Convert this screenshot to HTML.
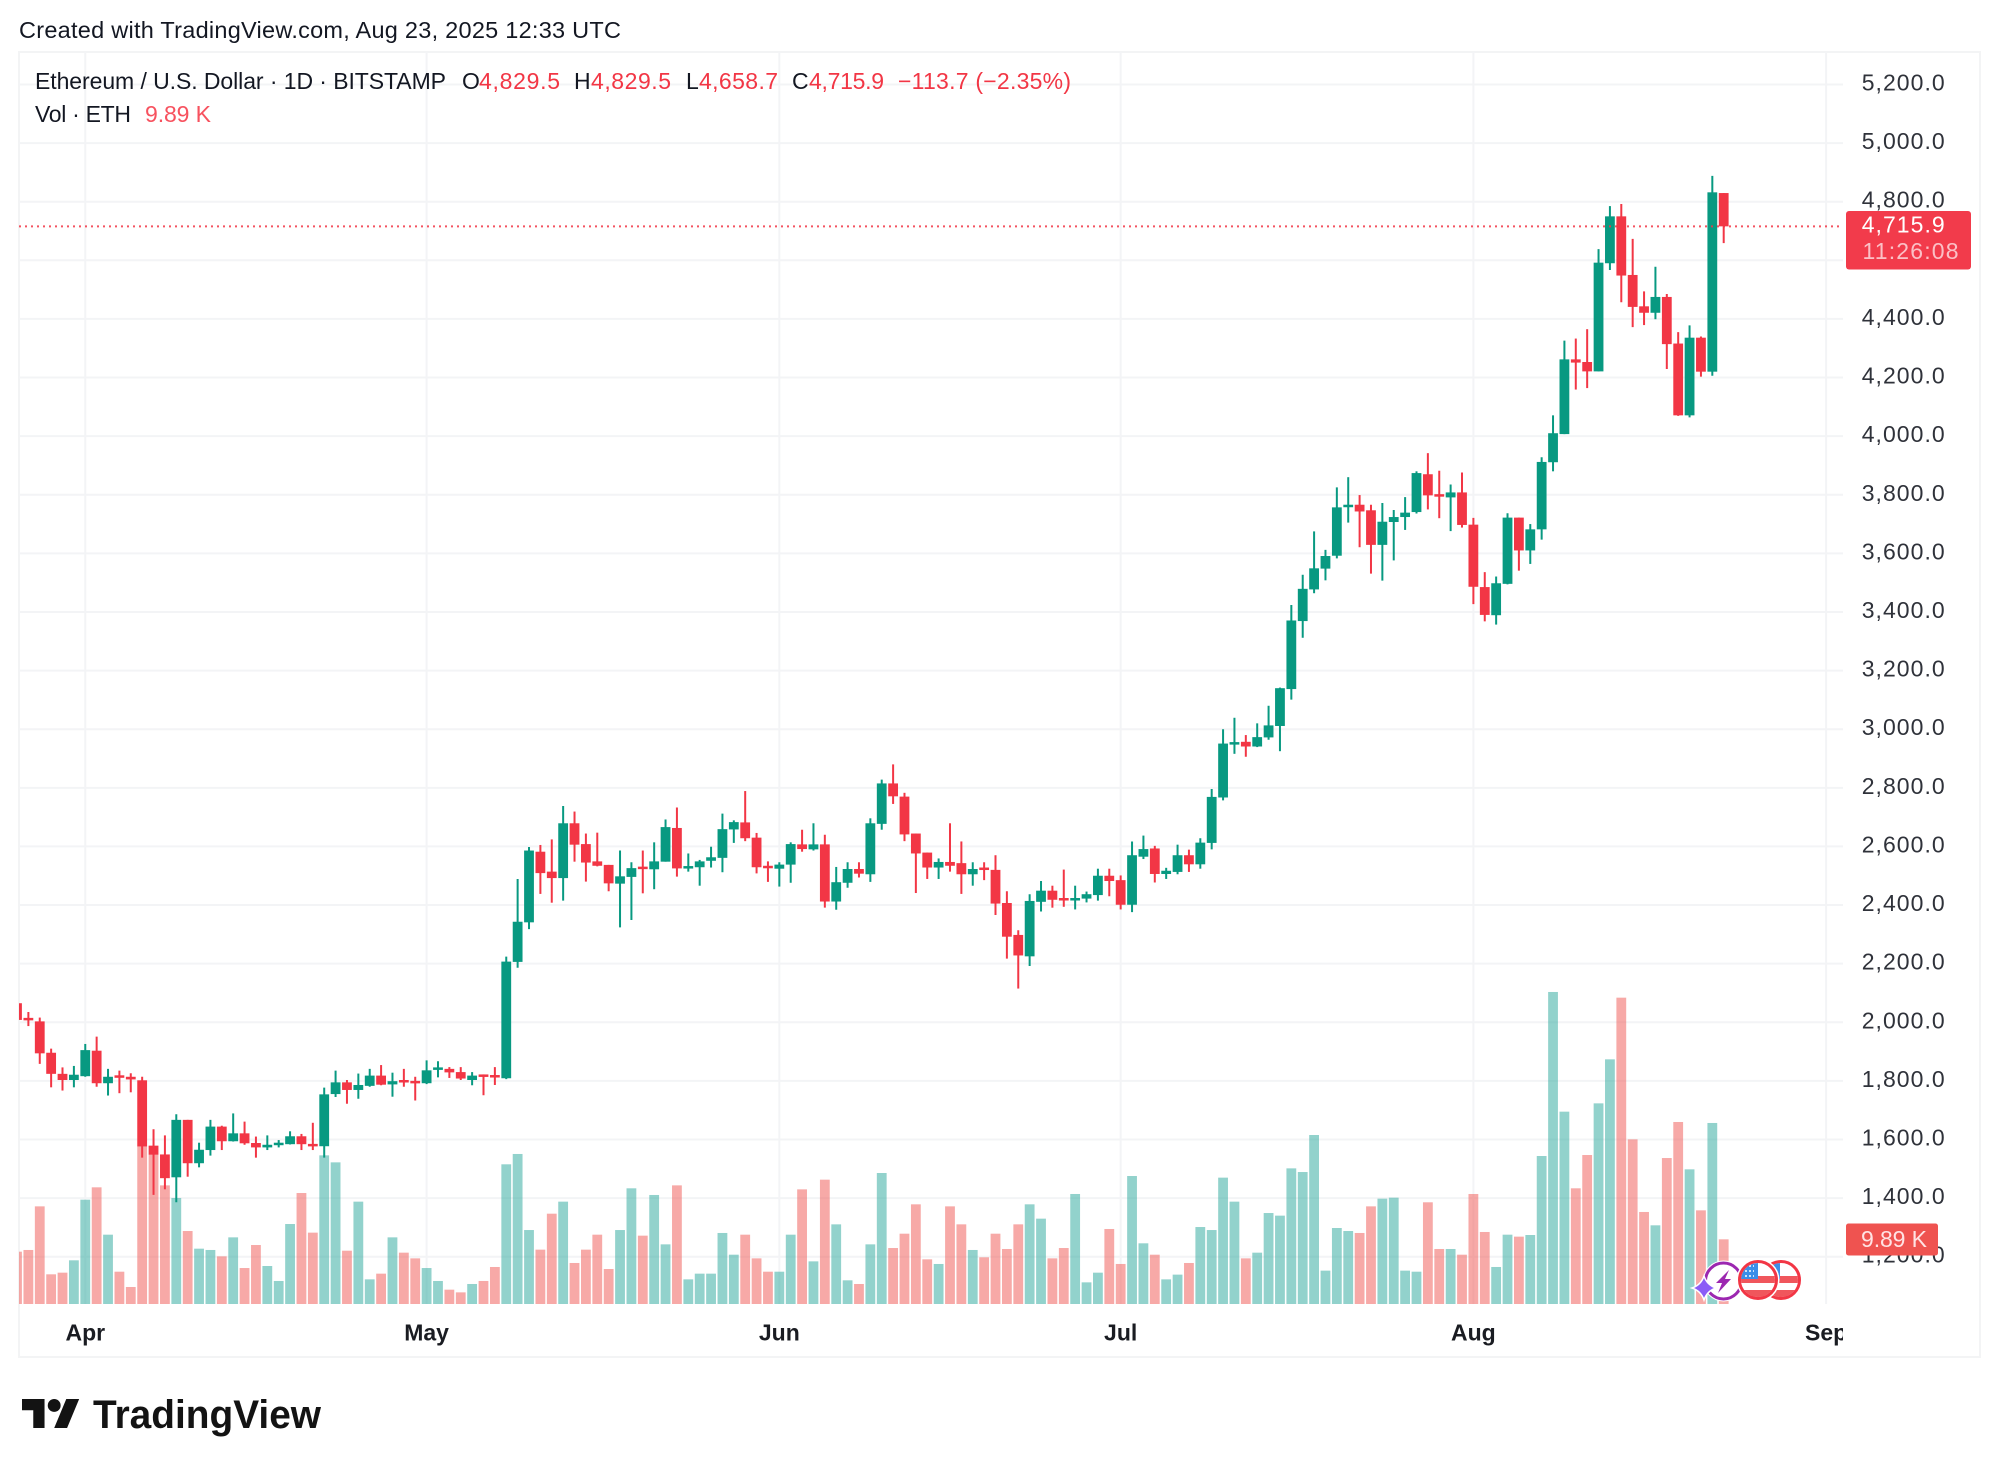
<!DOCTYPE html>
<html lang="en">
<head>
<meta charset="utf-8">
<title>Ethereum / U.S. Dollar 1D chart</title>
<style>
html,body{margin:0;padding:0;background:#fff;}
body{width:1999px;height:1472px;overflow:hidden;}
svg{display:block;font-family:"Liberation Sans",sans-serif;}
</style>
</head>
<body>
<svg id="chart" xmlns="http://www.w3.org/2000/svg" width="1999" height="1472" viewBox="0 0 1999 1472">
  <defs>
    <clipPath id="plot-clip"><rect x="19" y="52" width="1824" height="1305"/></clipPath>
    <clipPath id="flag-clip-a"><circle cx="1758" cy="1280" r="17"/></clipPath>
    <clipPath id="flag-clip-b"><circle cx="1781" cy="1280" r="17"/></clipPath>
  </defs>
  <rect width="1999" height="1472" fill="#fff"/>
  <text x="19" y="38" font-size="23.5" fill="#131722" textLength="602" lengthAdjust="spacing">Created with TradingView.com, Aug 23, 2025 12:33 UTC</text>
  <rect x="19" y="52" width="1961" height="1305" fill="none" stroke="#f3f4f5" stroke-width="2"/>
  <g id="grid"></g>
  <g id="volumes" clip-path="url(#plot-clip)"></g>
  <g id="candles" clip-path="url(#plot-clip)"></g>
  <line id="price-line" x1="19" x2="1843" stroke="#f23645" stroke-opacity="0.85" stroke-width="2" stroke-dasharray="2 4"/>
  <g id="price-axis"></g>
  <g id="time-axis" clip-path="url(#plot-clip)"></g>

  <g font-size="23">
    <text x="35" y="89" fill="#131722" textLength="411" lengthAdjust="spacing">Ethereum / U.S. Dollar · 1D · BITSTAMP</text>
    <text x="462" y="89" fill="#131722">O</text>
    <text x="479" y="89" fill="#f23645" textLength="81" lengthAdjust="spacing">4,829.5</text>
    <text x="574" y="89" fill="#131722">H</text>
    <text x="591" y="89" fill="#f23645" textLength="80" lengthAdjust="spacing">4,829.5</text>
    <text x="686" y="89" fill="#131722">L</text>
    <text x="699" y="89" fill="#f23645" textLength="79" lengthAdjust="spacing">4,658.7</text>
    <text x="792" y="89" fill="#131722">C</text>
    <text x="809" y="89" fill="#f23645" textLength="75" lengthAdjust="spacing">4,715.9</text>
    <text x="898" y="89" fill="#f23645" textLength="173" lengthAdjust="spacing">−113.7 (−2.35%)</text>
    <text x="35" y="122" fill="#131722" textLength="96" lengthAdjust="spacing">Vol · ETH</text>
    <text x="145" y="122" fill="#f7525f" textLength="66" lengthAdjust="spacing">9.89 K</text>
  </g>

  <g id="price-tag">
    <rect x="1846" y="211" width="125" height="58.5" rx="3" fill="#f23b4b"/>
    <text x="1861.7" y="232.5" font-size="23" fill="#fff" textLength="83" lengthAdjust="spacing">4,715.9</text>
    <text x="1862.5" y="259" font-size="23" fill="#fbc0c6" textLength="96" lengthAdjust="spacing">11:26:08</text>
  </g>
  <g>
    <rect x="1846" y="1223.5" width="92" height="32" rx="2.5" fill="#ef5350"/>
    <text x="1861" y="1247" font-size="23" fill="#ffe3e4" textLength="66" lengthAdjust="spacing">9.89 K</text>
  </g>

  <g>
    <g>
      <circle cx="1781" cy="1280" r="21.5" fill="#fff"/>
      <g clip-path="url(#flag-clip-b)">
        <rect x="1762" y="1261" width="38" height="38" fill="#fff"/>
        <rect x="1762" y="1276" width="38" height="7" fill="#f0565c"/>
        <rect x="1762" y="1290" width="38" height="10" fill="#f0565c"/>
        <rect x="1762" y="1262" width="18" height="17" fill="#3b8ee8"/>
      </g>
      <circle cx="1781" cy="1280" r="18.5" fill="none" stroke="#f23645" stroke-width="3"/>
    </g>
    <g>
      <circle cx="1723.5" cy="1281" r="20.5" fill="#fff"/>
      <circle cx="1723.5" cy="1281" r="18" fill="none" stroke="#9c27b0" stroke-width="3"/>
      <polygon points="1729,1270 1716,1283 1722,1283 1718,1293 1731,1279 1725,1279" fill="#9c27b0"/>
      <path d="M1704,1276 Q1707,1285 1716,1288 Q1707,1291 1704,1300 Q1701,1291 1692,1288 Q1701,1285 1704,1276Z" fill="#8b5cf6" stroke="#fff" stroke-width="1.5"/>
    </g>
    <g>
      <circle cx="1758" cy="1280" r="21.5" fill="#fff"/>
      <g clip-path="url(#flag-clip-a)">
        <rect x="1739" y="1261" width="38" height="38" fill="#fff"/>
        <rect x="1739" y="1276" width="38" height="7" fill="#f0565c"/>
        <rect x="1739" y="1290" width="38" height="10" fill="#f0565c"/>
        <rect x="1739" y="1262" width="19" height="17" fill="#3b8ee8"/>
        <path d="M1745,1266h9M1745,1271h9M1745,1276h9" stroke="#cfe3fb" stroke-width="2" stroke-dasharray="2 2"/>
      </g>
      <circle cx="1758" cy="1280" r="18.5" fill="none" stroke="#f23645" stroke-width="3"/>
    </g>
  </g>

  <g>
    <g transform="translate(22,1392.6) scale(1.61)" fill="#131313">
      <path d="M14 22H7V11H0V4h14v18zM28 22h-8l7.5-18h8L28 22z"/>
      <circle cx="20" cy="8" r="4"/>
    </g>
    <text x="93" y="1428" font-size="40" font-weight="bold" fill="#131313" textLength="228" lengthAdjust="spacingAndGlyphs">TradingView</text>
  </g>
</svg>

<script>
const startDate = '2025-03-26';
const monthLabels = ['Apr', 'May', 'Jun', 'Jul', 'Aug', 'Sep'];
const monthDates = ['2025-04-01', '2025-05-01', '2025-06-01', '2025-07-01', '2025-08-01', '2025-09-01'];
const priceTicks = [5200, 5000, 4800, 4600, 4400, 4200, 4000, 3800, 3600, 3400, 3200, 3000, 2800, 2600, 2400, 2200, 2000, 1800, 1600, 1400, 1200];
const priceTickLabels = ['5,200.0', '5,000.0', '4,800.0', '4,600.0', '4,400.0', '4,200.0', '4,000.0', '3,800.0', '3,600.0', '3,400.0', '3,200.0', '3,000.0', '2,800.0', '2,600.0', '2,400.0', '2,200.0', '2,000.0', '1,800.0', '1,600.0', '1,400.0', '1,200.0'];

const opens = [2065,2015,2003,1896,1824,1803,1816,1903,1792,1819,1814,1802,1579,1549,1471,1667,1519,1564,1644,1594,1621,1588,1573,1584,1584,1611,1585,1577,1755,1795,1769,1783,1818,1788,1803,1800,1792,1839,1841,1830,1803,1822,1820,1809,
2206,2341,2582,2514,2492,2679,2608,2549,2537,2473,2496,2531,2522,2548,2663,2526,2529,2551,2561,2658,2682,2630,2534,2524,2538,2607,2590,2607,2412,2476,2523,2505,2677,2815,2770,2644,2579,2528,2547,2543,2505,2528,2520,2407,2298,
2225,2411,2449,2424,2416,2422,2434,2500,2485,2401,2565,2593,2506,2513,2570,2539,2612,2767,2950,2957,2941,2972,3011,3137,3369,3477,3548,3592,3760,3766,3747,3629,3707,3724,3741,3870,3802,3791,3808,3698,3485,
3389,3496,3722,3610,3682,3911,4007,4262,4253,4221,4590,4750,4550,4443,4421,4475,4316,4071,4336,4220,4829.5];

const highs = [2065,2035,2016,1910,1846,1851,1926,1951,1841,1835,1826,1814,1635,1614,1686,1667,1589,1667,1647,1689,1661,1610,1614,1598,1628,1619,1657,1777,1835,1803,1825,1841,1854,1828,1841,1814,1870,1867,1847,1847,1830,1822,1847,2224,
2489,2598,2605,2624,2738,2719,2644,2647,2537,2586,2546,2586,2614,2692,2733,2576,2554,2599,2712,2689,2789,2646,2549,2546,2614,2657,2679,2640,2530,2546,2546,2696,2828,2880,2783,2644,2579,2559,2679,2617,2546,2546,2570,2447,2314,
2437,2482,2466,2521,2466,2446,2524,2524,2501,2617,2637,2602,2527,2606,2589,2628,2796,3000,3039,2980,3020,3080,3142,3424,3527,3675,3612,3825,3860,3799,3766,3772,3748,3792,3880,3942,3882,3835,3876,3721,3536,
3521,3737,3722,3700,3928,4071,4326,4333,4365,4638,4785,4792,4673,4494,4578,4485,4355,4378,4340,4888,4829.5];

const lows = [2007,1987,1858,1778,1767,1778,1814,1780,1750,1758,1761,1538,1411,1430,1386,1473,1505,1545,1564,1593,1582,1538,1564,1573,1583,1564,1564,1538,1745,1722,1739,1780,1785,1746,1780,1733,1789,1812,1810,1803,1785,1751,1786,1806,
2186,2318,2438,2408,2415,2548,2480,2532,2447,2324,2349,2440,2454,2548,2497,2514,2466,2528,2512,2612,2618,2508,2479,2463,2476,2582,2586,2391,2384,2459,2494,2479,2657,2745,2618,2441,2489,2489,2514,2438,2466,2485,2366,2217,2115,
2192,2378,2391,2394,2385,2409,2415,2430,2385,2376,2557,2477,2489,2505,2513,2524,2590,2757,2916,2906,2939,2964,2925,3101,3312,3464,3508,3583,3705,3621,3531,3507,3576,3680,3736,3750,3720,3676,3688,3427,3368,
3357,3494,3541,3564,3647,3880,4007,4159,4164,4221,4567,4457,4372,4379,4399,4229,4069,4064,4203,4206,4658.7];

const closes = [2008,2008,1894,1824,1803,1821,1905,1792,1814,1813,1805,1576,1548,1468,1667,1519,1565,1644,1594,1621,1587,1573,1582,1589,1611,1584,1578,1754,1795,1769,1786,1818,1787,1799,1796,1794,1836,1846,1829,1808,1818,1817,1813,2207,
2343,2586,2509,2492,2679,2606,2545,2534,2474,2498,2526,2524,2549,2666,2525,2533,2549,2563,2659,2683,2628,2529,2528,2538,2608,2591,2607,2412,2478,2523,2507,2679,2815,2771,2641,2576,2528,2547,2534,2505,2523,2522,2405,2292,2228,
2414,2449,2418,2418,2424,2437,2500,2482,2401,2570,2591,2506,2517,2570,2539,2613,2769,2951,2956,2941,2973,3013,3140,3371,3479,3549,3591,3757,3766,3743,3629,3708,3724,3739,3874,3798,3797,3808,3697,3486,3390,
3498,3722,3610,3682,3912,4010,4262,4251,4221,4592,4750,4548,4441,4421,4475,4314,4071,4336,4220,4832,4715.9];

const volumes = [8,8.26,14.93,4.54,4.79,6.68,15.95,17.84,10.6,4.94,2.6,24.06,22.83,18.14,16.21,11.16,8.46,8.26,7.29,10.19,5.5,9.02,5.81,3.52,12.23,16.97,10.91,22.73,21.66,8.15,15.65,3.77,4.64,10.19,7.85,6.98,5.5,3.52,2.19,1.78,3.06,3.52,5.66,21.36,
22.94,11.31,8.31,13.81,15.65,6.27,8.31,10.6,5.35,11.31,17.69,10.45,16.67,9.12,18.14,3.77,4.64,4.64,10.86,7.54,10.6,6.98,4.94,4.94,10.6,17.53,6.52,19.01,12.18,3.62,3.06,9.12,20.03,8.56,10.75,15.24,6.83,6.12,14.93,12.18,8.26,7.14,10.75,8.41,12.18,
15.24,13.05,6.98,8.56,16.82,3.31,4.79,11.47,6.12,19.57,9.28,7.54,3.77,4.49,6.27,11.77,11.31,19.32,15.65,6.98,7.85,13.91,13.51,20.74,20.18,25.84,5.1,11.62,11.16,10.86,14.93,16.11,16.26,5.1,4.94,15.55,8.41,8.41,7.54,16.82,11.01,
5.66,10.6,10.3,10.55,22.63,47.71,29.41,17.69,22.78,30.68,37.41,46.84,25.18,14.07,12.03,22.32,27.83,20.59,14.32,27.68,9.89];

const SVG_NS = 'http://www.w3.org/2000/svg';
const UP = '#089981';
const DOWN = '#f23645';
const VOLUME_UP = '#26a69a';
const VOLUME_DOWN = '#ef5350';

function xScale(index) { return 17 + index * 11.378; }
function yScale(price) { return 201.7 + (4800 - price) * 0.29306; }
function volumeHeight(volume) { return volume * 6.54; }
function dayIndex(dateText) { return Math.round((Date.parse(dateText) - Date.parse(startDate)) / 86400000); }
const VOLUME_BASE = 1304;

function make(tag, attrs, parent) {
  const el = document.createElementNS(SVG_NS, tag);
  for (const key in attrs) el.setAttribute(key, attrs[key]);
  parent.appendChild(el);
  return el;
}

const grid = document.getElementById('grid');
const priceAxis = document.getElementById('price-axis');
const timeAxis = document.getElementById('time-axis');
const volumesGroup = document.getElementById('volumes');
const candlesGroup = document.getElementById('candles');

priceTicks.forEach(function (tick, k) {
  const y = yScale(tick);
  const line = make('line', { x1: 19, x2: 1843, y1: y, y2: y, stroke: '#f3f4f6', 'stroke-width': 2 }, grid);
  
  
  const label = make('text', { x: 1861.7, y: y + 6, 'font-size': 23, fill: '#2f323a', textLength: 83, lengthAdjust: 'spacing' }, priceAxis);
  
  
  label.textContent = priceTickLabels[k];
});

monthDates.forEach(function (dateText, k) {
  const x = xScale(dayIndex(dateText));
  const line = make('line', { x1: x, x2: x, y1: 52, y2: 1304, stroke: '#f3f4f6', 'stroke-width': 2 }, grid);
  
  
  const label = make('text', { x: x, y: 1340.5, 'font-size': 23, 'font-weight': 'bold', fill: '#1a1c22', 'text-anchor': 'middle' }, timeAxis);
  
  
  label.textContent = monthLabels[k];
});

volumes.forEach(function (volume, i) {
  const rising = closes[i] >= opens[i];
  const h = volumeHeight(volume);
  const bar = make('rect', { x: xScale(i) - 4.9, y: VOLUME_BASE - h, width: 9.8, height: h, fill: rising ? VOLUME_UP : VOLUME_DOWN, 'fill-opacity': 0.5 }, volumesGroup);
  
  
});

opens.forEach(function (open, i) {
  const close = closes[i];
  const color = close >= open ? UP : DOWN;
  const x = xScale(i);
  const wick = make('line', { x1: x, x2: x, y1: yScale(highs[i]), y2: yScale(lows[i]), stroke: color, 'stroke-width': 2 }, candlesGroup);
  
  
  const top = yScale(Math.max(open, close));
  const h = Math.max(2.5, Math.abs(yScale(open) - yScale(close)));
  const body = make('rect', { x: x - 4.9, y: top, width: 9.8, height: h, fill: color }, candlesGroup);
  
  
});

const lastClose = closes[closes.length - 1];
const lastY = yScale(lastClose);
const priceLine = document.getElementById('price-line');
priceLine.setAttribute('y1', lastY);
priceLine.setAttribute('y2', lastY);
document.getElementById('price-tag').setAttribute('transform', 'translate(0,' + (lastY - yScale(4715.9)) + ')');
</script>
</body>
</html>
